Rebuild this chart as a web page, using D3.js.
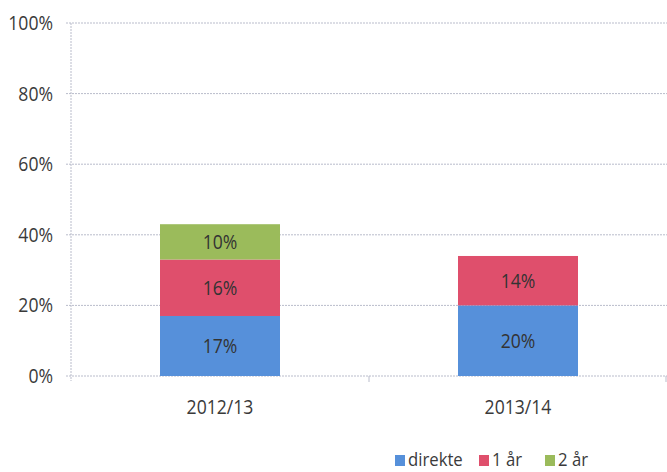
<!DOCTYPE html>
<html>
<head>
<meta charset="utf-8">
<script src="https://cdn.jsdelivr.net/npm/d3@7"></script>
<style>
  body { margin: 0; background: #fff; }
  text { font-family: "Open Sans", sans-serif; fill: #3a3a3a; }
</style>
</head>
<body>
<div id="chart"></div>
<script>
// data
const categories = ["2012/13", "2013/14"];
const seriesNames = ["direkte", "1 år", "2 år"];
const direkte = [17, 20];
const ettAar = [16, 14];
const toAar = [10, 0];
const yTicks = [0, 20, 40, 60, 80, 100];
const colors = ["#5690da", "#df4f6c", "#9bbb5b"];

const W = 667, H = 472;
const margin = {top: 23, right: 0, bottom: 96, left: 71};
const width = W - margin.left - margin.right;
const height = H - margin.top - margin.bottom;

// original font is a narrow one (Calibri), so squeeze text a bit
const squeeze = 0.88;
function place(sel, fx, fy) {
    sel.attr("transform", (d, i) => `translate(${fx(d, i)},${fy(d, i)}) scale(${squeeze},1)`);
}

const svg = d3.select("#chart").append("svg")
    .attr("width", W)
    .attr("height", H);

const g = svg.append("g")
    .attr("transform", `translate(${margin.left},${margin.top})`);

// scales
const x = d3.scaleBand().domain(categories).range([0, width]).paddingInner(0).paddingOuter(0);
const y = d3.scaleLinear().domain([0, 100]).range([height, 0]);

// gridlines
g.selectAll(".grid")
    .data(yTicks)
    .enter().append("line")
    .attr("class", "grid")
    .attr("x1", -5)
    .attr("x2", width)
    .attr("y1", d => y(d))
    .attr("y2", d => y(d))
    .attr("stroke", "#b9bccb")
    .attr("stroke-dasharray", "2,1")
    .attr("stroke-width", 1);

// y axis line
g.append("line")
    .attr("x1", 0).attr("x2", 0)
    .attr("y1", 0).attr("y2", height + 5)
    .attr("stroke", "#b9bccb")
    .attr("stroke-dasharray", "2,1");

// y labels
g.selectAll(".ylab")
    .data(yTicks)
    .enter().append("text")
    .attr("class", "ylab")
    .attr("dy", "0.35em")
    .attr("text-anchor", "end")
    .attr("font-size", 20)
    .text(d => d + "%")
    .call(place, () => -18, d => y(d));

// x ticks at band boundaries
const bounds = [x.step(), width - 1];
g.selectAll(".xtick")
    .data(bounds)
    .enter().append("line")
    .attr("x1", d => d).attr("x2", d => d)
    .attr("y1", height).attr("y2", height + 6)
    .attr("stroke", "#b9bccb");

// stack the series
const rows = categories.map((c, i) => ({cat: c, "direkte": direkte[i], "1 år": ettAar[i], "2 år": toAar[i]}));
const stacked = d3.stack().keys(seriesNames)(rows);

const barW = 120;
const layers = g.selectAll(".layer")
    .data(stacked)
    .enter().append("g")
    .attr("class", "layer")
    .attr("fill", (d, i) => colors[i]);

layers.selectAll("rect")
    .data(d => d.filter(p => p[1] - p[0] > 0))
    .enter().append("rect")
    .attr("x", d => x(d.data.cat) + x.bandwidth() / 2 - barW / 2)
    .attr("y", d => y(d[1]))
    .attr("width", barW)
    .attr("height", d => y(d[0]) - y(d[1]));

layers.selectAll(".val")
    .data(d => d.filter(p => p[1] - p[0] > 0))
    .enter().append("text")
    .attr("class", "val")
    .attr("dy", "0.35em")
    .attr("text-anchor", "middle")
    .attr("font-size", 20)
    .style("fill", "#333")
    .text(d => (d[1] - d[0]) + "%")
    .call(place, d => x(d.data.cat) + x.bandwidth() / 2, d => (y(d[0]) + y(d[1])) / 2);

// x labels
g.selectAll(".xlab")
    .data(categories)
    .enter().append("text")
    .attr("text-anchor", "middle")
    .attr("font-size", 20)
    .text(d => d)
    .call(place, d => x(d) + x.bandwidth() / 2, () => height + 38);

// legend
const legendX = [395, 479, 545];
const legend = svg.append("g").attr("transform", "translate(0,461)");
const items = legend.selectAll(".item")
    .data(seriesNames)
    .enter().append("g")
    .attr("transform", (d, i) => `translate(${legendX[i]},0)`);
items.append("rect")
    .attr("x", 0).attr("y", -6)
    .attr("width", 10).attr("height", 11)
    .attr("fill", (d, i) => colors[i]);
items.append("text")
    .attr("font-size", 19)
    .text(d => d)
    .call(place, () => 13, () => 5);
</script>
</body>
</html>
